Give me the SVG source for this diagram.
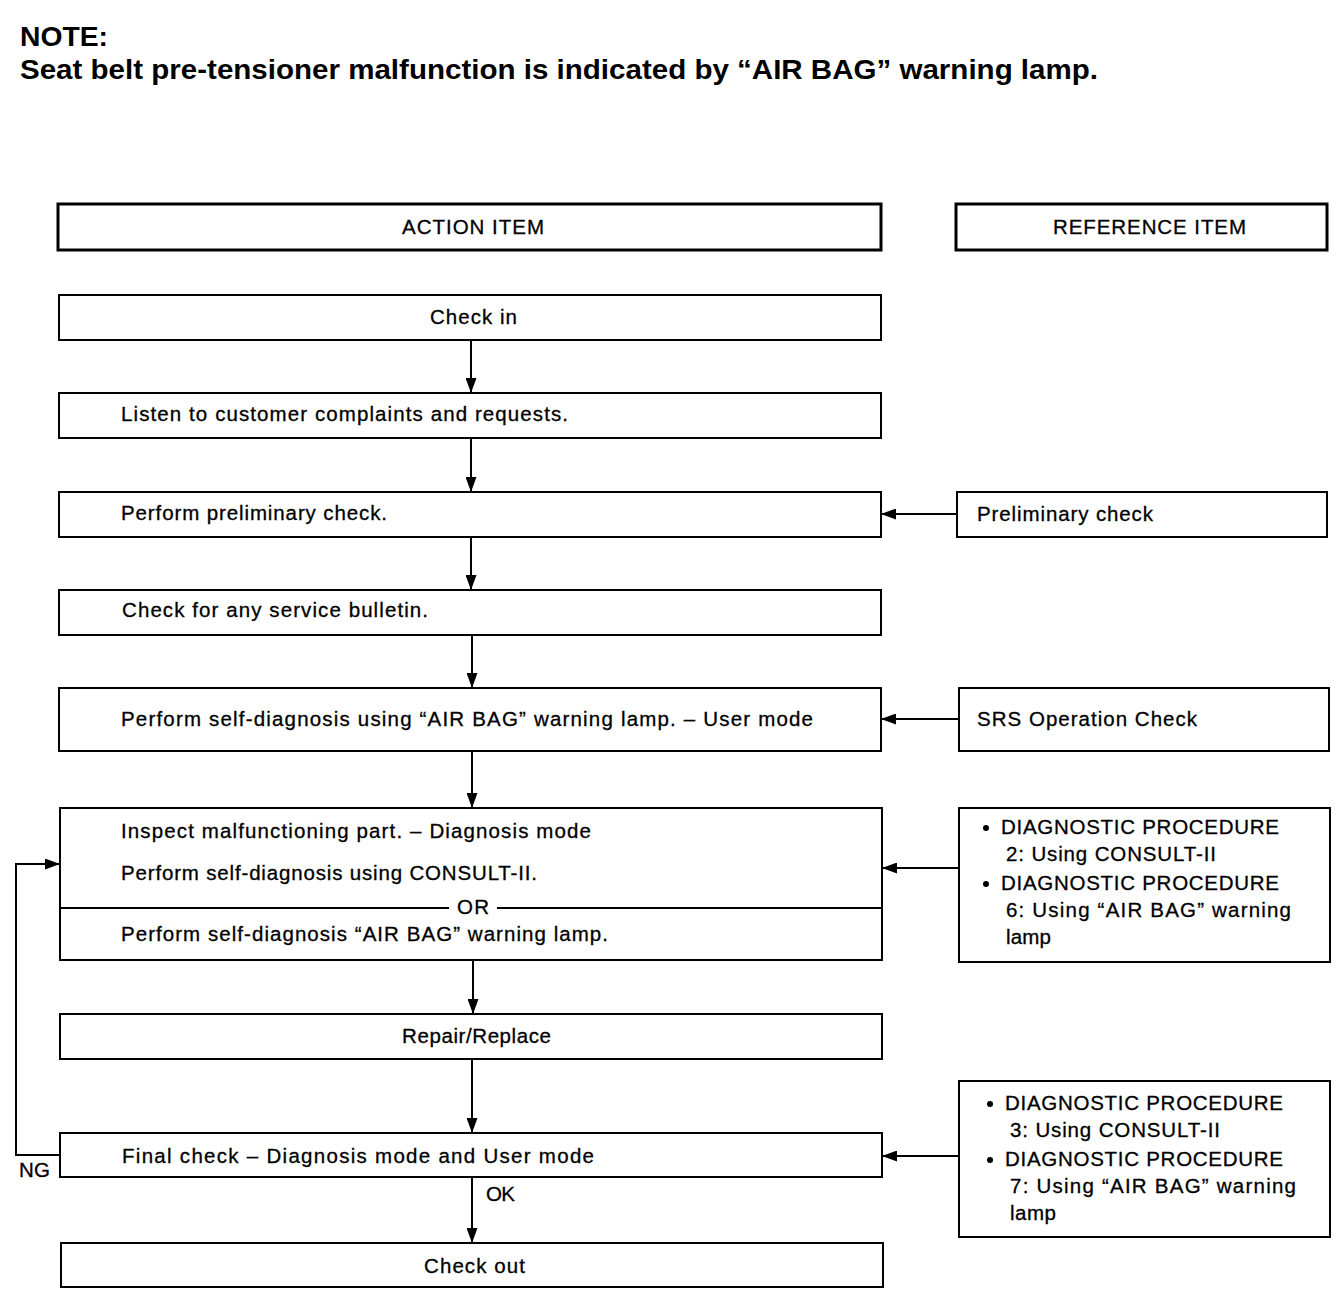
<svg xmlns="http://www.w3.org/2000/svg" width="1344" height="1316" viewBox="0 0 1344 1316">
<style>
.t{font-family:"Liberation Sans",Arial,sans-serif;font-size:20.5px;fill:#000;stroke:#000;stroke-width:0.3}
.h{font-family:"Liberation Sans",Arial,sans-serif;font-size:28px;font-weight:bold;fill:#000}
.b{fill:#fff;stroke:#000;stroke-width:2}
.hb{fill:#fff;stroke:#000;stroke-width:3}
.c{fill:none;stroke:#000;stroke-width:2}
</style>
<defs>
<marker id="ah" viewBox="0 0 15 11" refX="15" refY="5.5" markerWidth="15" markerHeight="11" markerUnits="userSpaceOnUse" orient="auto">
<path d="M0,0 L15,5.5 L0,11 Z" fill="#000"/>
</marker>
</defs>
<rect width="1344" height="1316" fill="#fff"/>
<g id="note">
<text class="h" x="20" y="46" textLength="88" lengthAdjust="spacingAndGlyphs">NOTE:</text>
<text class="h" x="20" y="79" textLength="1078" lengthAdjust="spacingAndGlyphs">Seat belt pre-tensioner malfunction is indicated by “AIR BAG” warning lamp.</text>
</g>
<g id="hdr-action"><rect class="hb" x="58" y="204" width="823" height="46"/><text class="t" x="402" y="234" textLength="142">ACTION ITEM</text></g>
<g id="hdr-ref"><rect class="hb" x="956" y="204" width="371" height="46"/><text class="t" x="1053" y="234" textLength="193">REFERENCE ITEM</text></g>
<g id="checkin"><rect class="b" x="59" y="295" width="822" height="45"/><text class="t" x="430" y="324" textLength="87">Check in</text></g>
<g id="listen"><rect class="b" x="59" y="393" width="822" height="45"/><text class="t" x="121" y="421" textLength="447">Listen to customer complaints and requests.</text></g>
<g id="prelim"><rect class="b" x="59" y="492" width="822" height="45"/><text class="t" x="121" y="520" textLength="266">Perform preliminary check.</text></g>
<g id="ref-prelim"><rect class="b" x="957" y="492" width="370" height="45"/><text class="t" x="977" y="521" textLength="176">Preliminary check</text></g>
<g id="bulletin"><rect class="b" x="59" y="590" width="822" height="45"/><text class="t" x="122" y="617" textLength="306">Check for any service bulletin.</text></g>
<g id="selfdiag"><rect class="b" x="59" y="688" width="822" height="63"/><text class="t" x="121" y="726" textLength="692">Perform self-diagnosis using “AIR BAG” warning lamp. – User mode</text></g>
<g id="ref-srs"><rect class="b" x="959" y="688" width="370" height="63"/><text class="t" x="977" y="726" textLength="220">SRS Operation Check</text></g>
<g id="inspect">
<rect class="b" x="60" y="808" width="822" height="152"/>
<text class="t" x="121" y="838" textLength="470">Inspect malfunctioning part. – Diagnosis mode</text>
<text class="t" x="121" y="880" textLength="416">Perform self-diagnosis using CONSULT-II.</text>
<line class="c" x1="60" y1="908" x2="449" y2="908"/>
<line class="c" x1="497" y1="908" x2="882" y2="908"/>
<text class="t" x="457" y="914" textLength="32">OR</text>
<text class="t" x="121" y="941" textLength="487">Perform self-diagnosis “AIR BAG” warning lamp.</text>
</g>
<g id="ref-diag1">
<rect class="b" x="959" y="808" width="371" height="154"/>
<circle cx="986" cy="828" r="3"/>
<text class="t" x="1001" y="834" textLength="278">DIAGNOSTIC PROCEDURE</text>
<text class="t" x="1006" y="861" textLength="210">2: Using CONSULT-II</text>
<circle cx="986" cy="884" r="3"/>
<text class="t" x="1001" y="890" textLength="278">DIAGNOSTIC PROCEDURE</text>
<text class="t" x="1006" y="917" textLength="285">6: Using “AIR BAG” warning</text>
<text class="t" x="1006" y="944" textLength="45">lamp</text>
</g>
<g id="repair"><rect class="b" x="60" y="1014" width="822" height="45"/><text class="t" x="402" y="1043" textLength="149">Repair/Replace</text></g>
<g id="final"><rect class="b" x="60" y="1133" width="822" height="44"/><text class="t" x="122" y="1163" textLength="472">Final check – Diagnosis mode and User mode</text></g>
<g id="ref-diag2">
<rect class="b" x="959" y="1081" width="371" height="156"/>
<circle cx="990" cy="1104" r="3"/>
<text class="t" x="1005" y="1110" textLength="278">DIAGNOSTIC PROCEDURE</text>
<text class="t" x="1010" y="1137" textLength="210">3: Using CONSULT-II</text>
<circle cx="990" cy="1160" r="3"/>
<text class="t" x="1005" y="1166" textLength="278">DIAGNOSTIC PROCEDURE</text>
<text class="t" x="1010" y="1193" textLength="286">7: Using “AIR BAG” warning</text>
<text class="t" x="1010" y="1220" textLength="46">lamp</text>
</g>
<g id="checkout"><rect class="b" x="61" y="1243" width="822" height="44"/><text class="t" x="424" y="1273" textLength="101">Check out</text></g>
<g id="connectors">
<line class="c" x1="471" y1="340" x2="471" y2="393" marker-end="url(#ah)"/>
<line class="c" x1="471" y1="438" x2="471" y2="492" marker-end="url(#ah)"/>
<line class="c" x1="471" y1="537" x2="471" y2="590" marker-end="url(#ah)"/>
<line class="c" x1="472" y1="635" x2="472" y2="688" marker-end="url(#ah)"/>
<line class="c" x1="472" y1="751" x2="472" y2="808" marker-end="url(#ah)"/>
<line class="c" x1="473" y1="960" x2="473" y2="1014" marker-end="url(#ah)"/>
<line class="c" x1="472" y1="1059" x2="472" y2="1133" marker-end="url(#ah)"/>
<line class="c" x1="472" y1="1177" x2="472" y2="1243" marker-end="url(#ah)"/>
<line class="c" x1="957" y1="514" x2="881" y2="514" marker-end="url(#ah)"/>
<line class="c" x1="959" y1="719" x2="881" y2="719" marker-end="url(#ah)"/>
<line class="c" x1="959" y1="868" x2="882" y2="868" marker-end="url(#ah)"/>
<line class="c" x1="959" y1="1156" x2="882" y2="1156" marker-end="url(#ah)"/>
<polyline class="c" points="60,1155 16,1155 16,864 60,864" marker-end="url(#ah)"/>
<text class="t" x="19" y="1177" textLength="31">NG</text>
<text class="t" x="486" y="1201" textLength="29">OK</text>
</g>
</svg>
